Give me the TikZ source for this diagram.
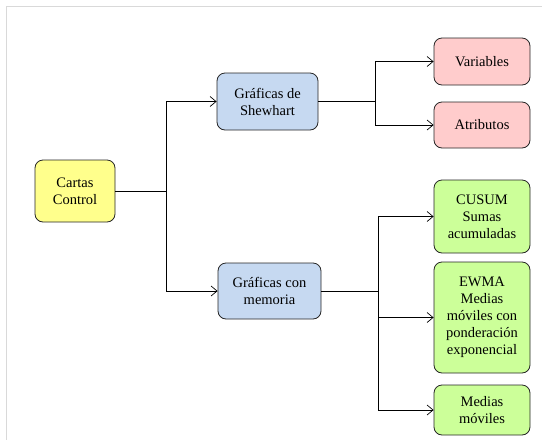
\documentclass[tikz,border=0pt]{standalone}
\usepackage{fontspec}
\setmainfont{Liberation Serif}
\usetikzlibrary{arrows.meta}
\definecolor{cyel}{HTML}{FFFF8C}
\definecolor{cblue}{HTML}{C6D9F1}
\definecolor{cpink}{HTML}{FFCCCC}
\definecolor{cgreen}{HTML}{CCFF99}
\definecolor{cframe}{HTML}{D9D9D9}
\tikzset{
  box/.style={draw=black!85, line width=0.8pt, rounded corners=8pt, align=center,
    font=\fontsize{14.5}{17}\selectfont, inner sep=2pt},
  arr/.style={line width=0.7pt, -{Straight Barb[length=6pt,width=10pt,line width=0.7pt]}},
  ln/.style={line width=0.7pt},
}
\begin{document}
\begin{tikzpicture}[x=1pt,y=-1pt]
\useasboundingbox (0,0) rectangle (542,440);
\draw[cframe, line width=1pt] (6,440) -- (6,6) -- (542,6);
\node[box, fill=cyel, minimum width=80pt, minimum height=62pt] (cc) at (75,191) {Cartas\\Control};
\node[box, fill=cblue, minimum width=101pt, minimum height=57pt] (sh) at (267.5,101.5) {Gráficas de\\Shewhart};
\node[box, fill=cblue, minimum width=103pt, minimum height=56pt] (me) at (269.5,291) {Gráficas con\\memoria};
\node[box, fill=cpink, minimum width=96pt, minimum height=47pt] (va) at (482,61.5) {Variables};
\node[box, fill=cpink, minimum width=96pt, minimum height=46pt] (at) at (482,125) {Atributos};
\node[box, fill=cgreen, minimum width=96pt, minimum height=73pt] (cu) at (482,216.5) {CUSUM\\Sumas\\acumuladas};
\node[box, fill=cgreen, minimum width=96pt, minimum height=111pt] (ew) at (482,317.5) {EWMA\\Medias\\móviles con\\ponderación\\exponencial};
\node[box, fill=cgreen, minimum width=96pt, minimum height=50pt] (mm) at (482,410) {Medias\\móviles};
\coordinate (j1) at (166,191);
\coordinate (j2) at (375,101.5);
\coordinate (j3) at (378,291);
\draw[arr] (cc.east) -- (j1) |- (sh.west);
\draw[arr] (cc.east) -- (j1) |- (me.west);
\draw[arr] (sh.east) -- (j2) |- (va.west);
\draw[arr] (sh.east) -- (j2) |- (at.west);
\draw[arr] (me.east) -- (j3) |- (cu.west);
\draw[arr] (me.east) -- (j3) |- (ew.west);
\draw[arr] (me.east) -- (j3) |- (mm.west);
\end{tikzpicture}
\end{document}
